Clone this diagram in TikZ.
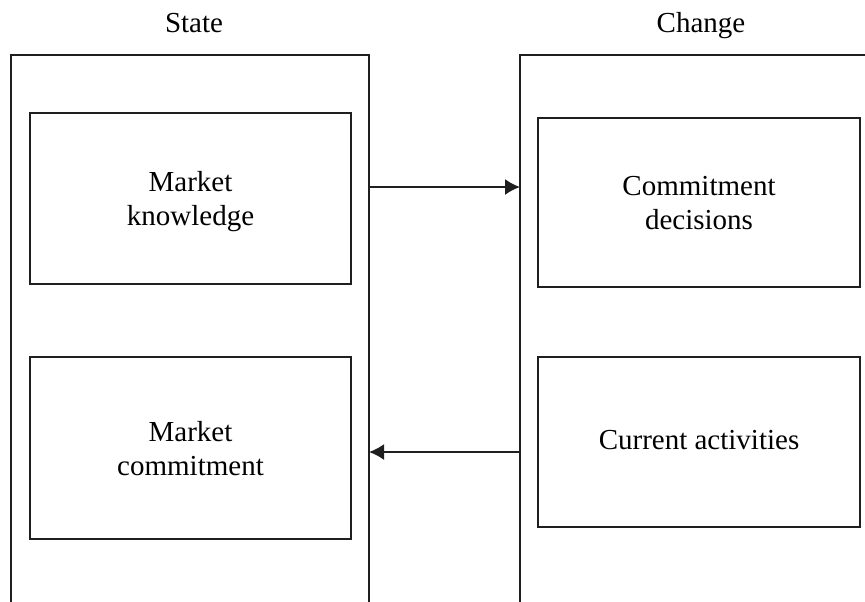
\documentclass[tikz,border=0pt]{standalone}
\usepackage{fontspec}
\setmainfont{Liberation Serif}
\usetikzlibrary{arrows.meta}
\tikzset{
  frame/.style={draw=black!88, line width=1pt},
  box/.style={draw=black!88, line width=1pt, align=center, inner sep=0pt, text depth=0pt,
    font=\fontsize{14.5pt}{17pt}\selectfont},
  title/.style={font=\fontsize{14.5pt}{17pt}\selectfont, inner sep=0pt, anchor=base},
  flow/.style={draw=black!88, line width=0.9pt, -{Latex[length=7.5pt,width=8pt]}},
  ghost/.style={inner sep=0pt, outer sep=0pt}
}
\begin{document}
\begin{tikzpicture}[x=0.5pt,y=-0.5pt]
\useasboundingbox (0,0) rectangle (865,601);
\clip (0,0) rectangle (865,601);
% titles
\node[title] (statelbl) at (194,32) {State};
\node[title] (changelbl) at (701,32) {Change};
% outer frames (open at bottom)
\node[ghost, minimum width=179pt, minimum height=277.5pt] (stateframe) at (190,332.5) {};
\node[ghost, minimum width=174pt, minimum height=277.5pt] (changeframe) at (694,332.5) {};
\draw[frame] (stateframe.south west) |- (stateframe.north east) -- (stateframe.south east);
\draw[frame] (changeframe.south west) |- (changeframe.north east);
% inner boxes
\node[box, minimum width=160.5pt, minimum height=85.5pt] (knowledge) at (190.5,198.5) {Market\\knowledge};
\node[box, minimum width=160.5pt, minimum height=91pt] (mcommit) at (190.5,448) {Market\\commitment};
\node[box, minimum width=161pt, minimum height=84.5pt] (decisions) at (699,202.5) {Commitment\\decisions};
\node[box, minimum width=161pt, minimum height=85pt] (current) at (699,442) {\raisebox{2.5pt}{Current activities}};
% arrows
\path (stateframe.east |- 0,187) coordinate (k1);
\path (changeframe.west |- 0,452) coordinate (c1);
\draw[flow] (k1) -- (k1 -| changeframe.west);
\draw[flow] (c1) -- (c1 -| stateframe.east);
\end{tikzpicture}
\end{document}
